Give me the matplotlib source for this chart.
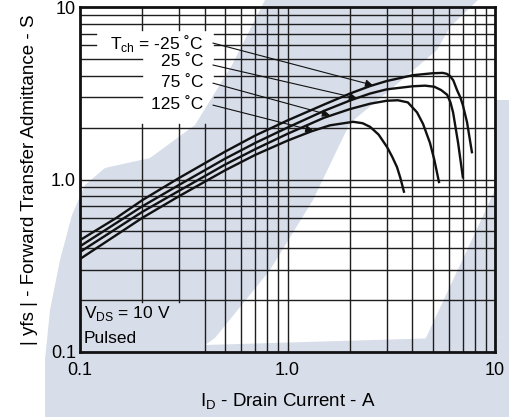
import matplotlib
matplotlib.use("Agg")
import matplotlib.pyplot as plt
from matplotlib.patches import Polygon

plt.rcParams['font.family'] = ['Liberation Sans', 'DejaVu Sans']
plt.rcParams['mathtext.fontset'] = 'custom'
plt.rcParams['mathtext.rm'] = 'Liberation Sans'

# --- data ---
id_m25 = [0.1, 0.15, 0.2, 0.3, 0.5, 0.7, 1.0, 1.5, 2.0, 2.5, 3.0, 4.0, 5.0, 5.6, 5.85, 6.07, 6.3, 6.56, 6.8, 7.0, 7.33, 7.74]
yfs_m25 = [0.445, 0.6, 0.76, 1.02, 1.45, 1.8, 2.2, 2.72, 3.15, 3.48, 3.72, 4.02, 4.13, 4.15, 4.1, 3.98, 3.75, 3.3, 3.0, 2.7, 2.15, 1.44]

id_25 = [0.1, 0.2, 0.3, 0.5, 0.7, 1.0, 1.5, 2.0, 2.5, 3.0, 4.0, 4.6, 5.1, 5.5, 5.88, 6.1, 6.28, 6.64, 7.0]
yfs_25 = [0.41, 0.7, 0.93, 1.32, 1.63, 2.0, 2.5, 2.87, 3.15, 3.33, 3.47, 3.5, 3.45, 3.3, 3.1, 2.8, 2.45, 1.63, 1.03]

id_75 = [0.1, 0.2, 0.3, 0.5, 0.7, 1.0, 1.5, 2.0, 2.5, 3.0, 3.4, 3.8, 4.21, 4.5, 4.86, 5.1, 5.37]
yfs_75 = [0.38, 0.65, 0.86, 1.22, 1.5, 1.84, 2.28, 2.56, 2.75, 2.86, 2.88, 2.8, 2.45, 2.1, 1.63, 1.3, 0.967]

id_125 = [0.1, 0.2, 0.3, 0.5, 0.7, 1.0, 1.3, 1.6, 2.07, 2.3, 2.5, 2.75, 3.02, 3.2, 3.37, 3.5, 3.64]
yfs_125 = [0.346, 0.6, 0.8, 1.13, 1.39, 1.68, 1.9, 2.06, 2.16, 2.12, 2.02, 1.82, 1.54, 1.35, 1.18, 1.02, 0.85]

labels = ["T$_{\\mathregular{ch}}$ = -25 ˚C", "25 ˚C", "75 ˚C", "125 ˚C"]
label_y = [6.18, 4.8, 3.67, 2.73]
lead_y = [6.18, 4.61, 3.62, 2.70]
tip_x = [2.58, 2.16, 1.60, 1.33]
tip_y = [3.52, 2.96, 2.36, 1.92]

ticks = [0.1, 1.0, 10]
tick_labels = ["0.1", "1.0", "10"]

# regions where the grid is left out (behind the annotations)
gaps = [(0.1, 0.379, 0.1, 0.195), (0.12, 0.44, 5.5, 7.4), (0.199, 0.44, 2.1, 7.4)]

W, H = 509, 417
fig = plt.figure(figsize=(W / 100, H / 100), dpi=100)

# --- watermark in the background ---
shade = "#d7dde9"
band1 = [(265, 0), (478, 0), (450, 27), (437, 50), (390, 90), (350, 123), (313, 200),
         (270, 270), (215, 338), (205, 345), (509, 336), (509, 417), (45, 417),
         (45, 360), (50, 310), (60, 260), (72, 215), (85, 185), (105, 168),
         (150, 158), (195, 125), (232, 65)]
band2 = [(495, 100), (509, 100), (509, 336), (455, 340), (425, 340), (495, 190)]
for poly in (band1, band2):
    pts = [(x / W, 1 - y / H) for x, y in poly]
    fig.add_artist(Polygon(pts, closed=True, transform=fig.transFigure,
                           facecolor=shade, edgecolor="none", zorder=0))

ax = fig.add_axes([80 / W, 1 - 352 / H, 415 / W, 345 / H])
ax.set_facecolor("none")
ax.set_xscale("log")
ax.set_yscale("log")
ax.set_xlim(0.1, 10)
ax.set_ylim(0.1, 10)


def cut(a0, a1, holes):
    # split the interval [a0, a1] around the holes
    segs = [(a0, a1)]
    for h0, h1 in holes:
        new = []
        for s0, s1 in segs:
            if h1 <= s0 or h0 >= s1:
                new.append((s0, s1))
            else:
                if s0 < h0:
                    new.append((s0, h0))
                if h1 < s1:
                    new.append((h1, s1))
        segs = new
    return segs


grid_vals = [m * 10.0 ** e for e in (-1, 0) for m in range(1, 10)][1:]
for v in grid_vals:
    holes = [(g[0], g[1]) for g in gaps if g[2] < v < g[3]]
    for s0, s1 in cut(0.1, 10, holes):
        ax.plot([s0, s1], [v, v], color="#1e1e1e", lw=1.0, zorder=1)
    holes = [(g[2], g[3]) for g in gaps if g[0] < v < g[1]]
    for s0, s1 in cut(0.1, 10, holes):
        ax.plot([v, v], [s0, s1], color="#1e1e1e", lw=1.0, zorder=1)

for xs, ys in [(id_m25, yfs_m25), (id_25, yfs_25), (id_75, yfs_75), (id_125, yfs_125)]:
    ax.plot(xs, ys, color="#111111", lw=1.7, zorder=3)

for lab, ly, ry, tx, ty in zip(labels, label_y, lead_y, tip_x, tip_y):
    ax.text(0.392, ly, lab, ha="right", va="center", fontsize=12.5, zorder=4)
    ax.annotate("", xy=(tx, ty), xytext=(0.437, ry),
                arrowprops=dict(arrowstyle="-|>", lw=0.8, color="#111111",
                                mutation_scale=11, shrinkA=0, shrinkB=0), zorder=4)

ax.text(0.1045, 0.168, "V$_{\\mathregular{DS}}$ = 10 V", ha="left", va="center", fontsize=12.5)
ax.text(0.1045, 0.12, "Pulsed", ha="left", va="center", fontsize=12.5)

ax.set_xticks(ticks)
ax.set_xticklabels(tick_labels)
ax.set_yticks(ticks)
ax.set_yticklabels(tick_labels)
ax.minorticks_off()
ax.tick_params(length=0, labelsize=13)
ax.tick_params(axis="x", pad=7)
ax.tick_params(axis="y", pad=3)
for s in ax.spines.values():
    s.set_linewidth(2)
    s.set_color("#111111")

ax.set_xlabel("I$_{\\mathregular{D}}$ - Drain Current - A", fontsize=13.5, labelpad=9)
ax.set_ylabel("| yfs | - Forward Transfer Admittance - S", fontsize=13.5, labelpad=9)

fig.savefig("out.png", dpi=100)
